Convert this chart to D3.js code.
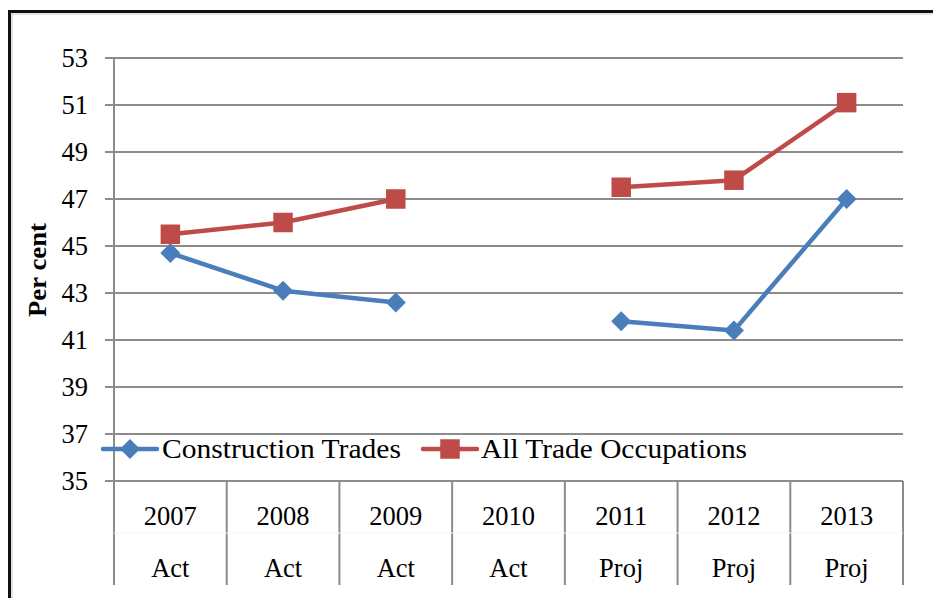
<!DOCTYPE html>
<html>
<head>
<meta charset="utf-8">
<script src="https://cdn.jsdelivr.net/npm/d3@7"></script>
<style>
  body { margin: 0; background: #fff; }
  svg text { font-family: "Liberation Serif", serif; fill: #000; }
</style>
</head>
<body>
<svg id="chart" width="933" height="598"></svg>
<script>
// chart data
var years = ['2007', '2008', '2009', '2010', '2011', '2012', '2013'];
var periods = ['Act', 'Act', 'Act', 'Act', 'Proj', 'Proj', 'Proj'];
var construction = [44.7, 43.1, 42.6, null, 41.8, 41.4, 47.0];
var allTrades = [45.5, 46.0, 47.0, null, 47.5, 47.8, 51.1];
var yTicks = [35, 37, 39, 41, 43, 45, 47, 49, 51, 53];

(function () {
  var svg = d3.select('#chart');
  var plotLeft = 114, plotRight = 903, plotTop = 58, plotBottom = 481;
  var fs = 26.5;

  // outer frame
  svg.append('rect')
    .attr('x', 9.5).attr('y', 11.5).attr('width', 1000).attr('height', 1000)
    .attr('fill', 'none').attr('stroke', '#111').attr('stroke-width', 3);
  svg.append('rect')
    .attr('x', 12).attr('y', 14).attr('width', 1000).attr('height', 1000)
    .attr('fill', 'none').attr('stroke', '#c8c8c8').attr('stroke-width', 1);

  var x = d3.scaleBand().domain(years).range([plotLeft, plotRight]);
  var y = d3.scaleLinear().domain([35, 53]).range([plotBottom, plotTop]);
  var cx = function(i) { return x(years[i]) + x.bandwidth() / 2; };

  // gridlines
  svg.append('g').selectAll('line').data(yTicks).join('line')
    .attr('x1', plotLeft - 9).attr('x2', plotRight)
    .attr('y1', function(d) { return y(d); }).attr('y2', function(d) { return y(d); })
    .attr('stroke', '#8c8c8c').attr('stroke-width', 2);

  // y axis
  svg.append('line')
    .attr('x1', plotLeft).attr('x2', plotLeft).attr('y1', plotTop).attr('y2', plotBottom)
    .attr('stroke', '#8c8c8c').attr('stroke-width', 2);
  svg.append('g').selectAll('text').data(yTicks).join('text')
    .attr('x', 88).attr('y', function(d) { return y(d); })
    .attr('dy', '0.35em').attr('text-anchor', 'end')
    .style('font-size', fs + 'px')
    .text(function(d) { return d; });

  svg.append('text')
    .attr('transform', 'translate(46,270) rotate(-90)')
    .attr('text-anchor', 'middle')
    .attr('textLength', 94).attr('lengthAdjust', 'spacingAndGlyphs')
    .style('font-size', '25px').style('font-weight', 'bold')
    .text('Per cent');

  // category axis (two levels)
  var sepX = years.map(function(d) { return x(d); }).concat([plotRight]);
  svg.append('g').selectAll('line').data(sepX).join('line')
    .attr('x1', function(d) { return d; }).attr('x2', function(d) { return d; })
    .attr('y1', plotBottom).attr('y2', 585)
    .attr('stroke', '#8c8c8c').attr('stroke-width', 2);
  svg.append('line')
    .attr('x1', plotLeft).attr('x2', plotRight).attr('y1', 533).attr('y2', 533)
    .attr('stroke', '#f6f6f6').attr('stroke-width', 1);
  svg.append('g').selectAll('text').data(years).join('text')
    .attr('x', function(d, i) { return cx(i); })
    .attr('y', 525).attr('text-anchor', 'middle')
    .style('font-size', fs + 'px')
    .text(function(d) { return d; });
  svg.append('g').selectAll('text').data(periods).join('text')
    .attr('x', function(d, i) { return cx(i); })
    .attr('y', 577).attr('text-anchor', 'middle')
    .style('font-size', fs + 'px')
    .text(function(d) { return d; });

  // diamond = square turned 45 degrees
  var series = [
    { name: 'Construction Trades', values: construction, color: '#4a7ebb', size: 200, rot: 45, tw: 239 },
    { name: 'All Trade Occupations', values: allTrades, color: '#be4b48', size: 380, rot: 0, tw: 266 }
  ];

  var line = d3.line()
    .defined(function(d) { return d != null; })
    .x(function(d, i) { return cx(i); })
    .y(function(d) { return y(d); });

  series.forEach(function(s) {
    svg.append('path')
      .attr('d', line(s.values))
      .attr('fill', 'none').attr('stroke', s.color)
      .attr('stroke-width', 4.5).attr('stroke-linejoin', 'round').attr('stroke-linecap', 'round');
    svg.append('g').selectAll('path')
      .data(s.values.map(function(v, i) { return { v: v, i: i }; }).filter(function(d) { return d.v != null; }))
      .join('path')
      .attr('transform', function(d) {
        return 'translate(' + cx(d.i) + ',' + y(d.v) + ') rotate(' + s.rot + ')';
      })
      .attr('d', d3.symbol().type(d3.symbolSquare).size(s.size))
      .attr('fill', s.color);
  });

  // legend
  var legendPos = [{ x: 103, tx: 162 }, { x: 423, tx: 481 }];
  series.forEach(function(s, i) {
    var g = svg.append('g').attr('transform', 'translate(' + legendPos[i].x + ',449)');
    g.append('line').attr('x1', 0).attr('x2', 54)
      .attr('stroke', s.color).attr('stroke-width', 4.5).attr('stroke-linecap', 'round');
    g.append('path').attr('transform', 'translate(27,0) rotate(' + s.rot + ')')
      .attr('d', d3.symbol().type(d3.symbolSquare).size(s.size)).attr('fill', s.color);
    svg.append('text').attr('x', legendPos[i].tx).attr('y', 449).attr('dy', '0.35em')
      .attr('textLength', s.tw).attr('lengthAdjust', 'spacingAndGlyphs')
      .style('font-size', fs + 'px').text(s.name);
  });
})();
</script>
</body>
</html>
